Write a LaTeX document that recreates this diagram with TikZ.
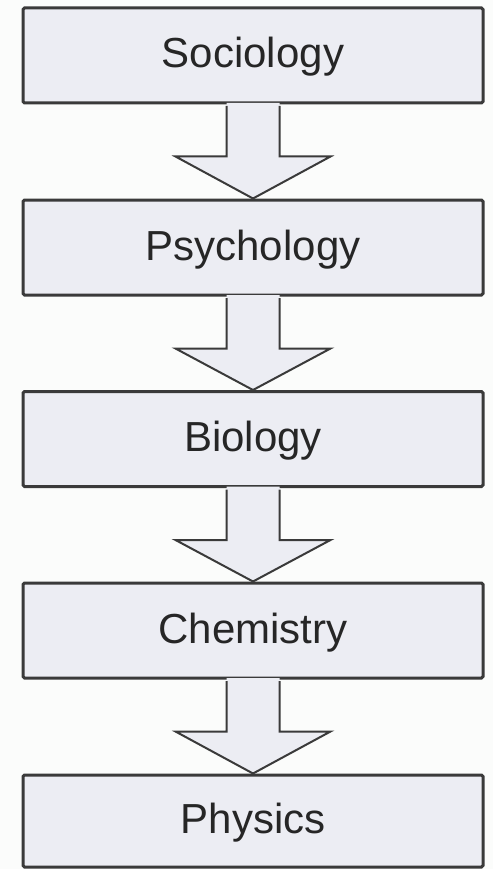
\documentclass[tikz,border=0pt]{standalone}
\usepackage{fontspec}
\setmainfont{Liberation Sans}
\usetikzlibrary{calc}
\definecolor{boxfill}{HTML}{ECEDF3}
\definecolor{boxline}{HTML}{3A3A3A}
\definecolor{pagebg}{HTML}{FBFCFB}
\tikzset{
  subjectbox/.style={rectangle, draw=boxline, fill=boxfill, line width=3pt,
    rounded corners=1.5pt, minimum width=460pt, minimum height=95pt,
    inner sep=0pt, text height=25pt, text depth=0pt,
    font=\fontsize{42}{48}\selectfont, text=black!85},
  blockarrow/.style={draw=boxline, fill=boxfill, line width=2pt, line join=miter}
}
% y axis points down: positive offsets go down the page
\newcommand{\downarrowblock}[2]{%
  \fill[boxfill] ($(#1.south)+(-26.5,-1.5)$) -- ($(#1.south)+(-26.5,52)$)
    -- ($(#1.south)+(-77.5,52)$) -- (#2.north) -- ($(#1.south)+(77.5,52)$)
    -- ($(#1.south)+(26.5,52)$) -- ($(#1.south)+(26.5,-1.5)$) -- cycle;
  \draw[blockarrow] ($(#1.south)+(-26.5,1.5)$) -- ($(#1.south)+(-26.5,52)$)
    -- ($(#1.south)+(-77.5,52)$) -- (#2.north) -- ($(#1.south)+(77.5,52)$)
    -- ($(#1.south)+(26.5,52)$) -- ($(#1.south)+(26.5,1.5)$);
}
\begin{document}
\begin{tikzpicture}[x=1pt, y=-1pt]
  \fill[pagebg] (0,0) rectangle (493,869);
  \useasboundingbox (0,0) rectangle (493,869);

  \node[subjectbox] (soc) at (253,55.5) {Sociology};
  \node[subjectbox] (psy) at (253,247.5) {Psychology};
  \node[subjectbox] (bio) at (253,439) {Biology};
  \node[subjectbox] (chem) at (253,630.5) {Chemistry};
  \node[subjectbox, minimum height=92pt] (phys) at (253,821) {Physics};

  \downarrowblock{soc}{psy}
  \downarrowblock{psy}{bio}
  \downarrowblock{bio}{chem}
  \downarrowblock{chem}{phys}
\end{tikzpicture}
\end{document}
